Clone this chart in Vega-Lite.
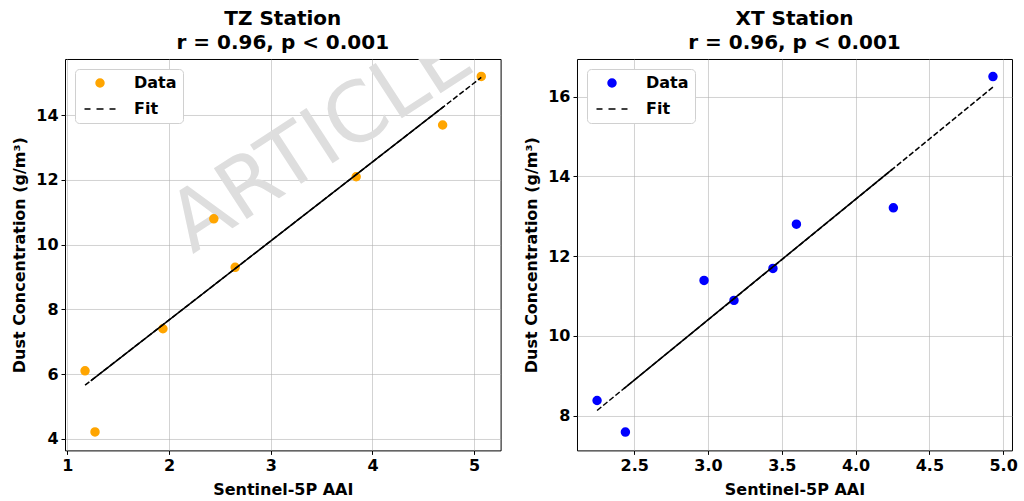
{
  "$schema": "https://vega.github.io/schema/vega-lite/v6.json",
  "background": "white",
  "padding": {"left": 11, "top": 8, "right": 0, "bottom": 0},
  "spacing": 76,
  "bounds": "flush",
  "config": {
    "font": "DejaVu Sans",
    "view": {"stroke": "black", "strokeWidth": 1},
    "axis": {
      "labelFont": "DejaVu Sans", "labelFontSize": 16, "labelFontWeight": "bold", "labelColor": "black",
      "titleFont": "DejaVu Sans", "titleFontSize": 16, "titleFontWeight": "bold", "titleColor": "black",
      "tickColor": "black", "tickSize": 4, "domain": false,
      "gridColor": "#b0b0b0", "gridOpacity": 0.7, "gridWidth": 0.8, "labelPadding": 3, "titlePadding": 8
    },
    "title": {"font": "DejaVu Sans", "fontSize": 20, "fontWeight": "bold", "color": "black", "lineHeight": 24, "anchor": "middle", "offset": 6},
    "legend": {
      "title": null, "orient": "top-left", "offset": 10,
      "fillColor": "white", "strokeColor": "#d0d0d0", "cornerRadius": 4, "padding": 6,
      "symbolSize": 400, "symbolStrokeWidth": 1.6, "symbolOffset": 8,
      "labelFont": "DejaVu Sans", "labelFontSize": 16, "labelFontWeight": "bold", "labelColor": "black",
      "labelOffset": 23, "rowPadding": 7
    }
  },
  "data": {"values": [
    {"station": "TZ", "series": "Data", "aai": 1.174, "dust": 6.10},
    {"station": "TZ", "series": "Data", "aai": 1.272, "dust": 4.21},
    {"station": "TZ", "series": "Data", "aai": 1.94, "dust": 7.40},
    {"station": "TZ", "series": "Data", "aai": 2.44, "dust": 10.80},
    {"station": "TZ", "series": "Data", "aai": 2.65, "dust": 9.30},
    {"station": "TZ", "series": "Data", "aai": 3.84, "dust": 12.10},
    {"station": "TZ", "series": "Data", "aai": 4.69, "dust": 13.70},
    {"station": "TZ", "series": "Data", "aai": 5.07, "dust": 15.20},
    {"station": "TZ", "series": "FitDash", "aai": 1.174, "dust": 5.655},
    {"station": "TZ", "series": "FitDash", "aai": 5.07, "dust": 15.17},
    {"station": "TZ", "series": "FitSolid", "aai": 1.23, "dust": 5.79},
    {"station": "TZ", "series": "FitSolid", "aai": 4.70, "dust": 14.27},
    {"station": "TZ", "series": "Watermark", "aai": 2.23, "dust": 9.70, "label": "ARTICLE IN PRESS"},
    {"station": "XT", "series": "Data", "aai": 2.248, "dust": 8.38},
    {"station": "XT", "series": "Data", "aai": 2.44, "dust": 7.59},
    {"station": "XT", "series": "Data", "aai": 2.973, "dust": 11.39},
    {"station": "XT", "series": "Data", "aai": 3.176, "dust": 10.89},
    {"station": "XT", "series": "Data", "aai": 3.44, "dust": 11.69},
    {"station": "XT", "series": "Data", "aai": 3.599, "dust": 12.80},
    {"station": "XT", "series": "Data", "aai": 4.256, "dust": 13.21},
    {"station": "XT", "series": "Data", "aai": 4.931, "dust": 16.50},
    {"station": "XT", "series": "FitDash", "aai": 2.248, "dust": 8.13},
    {"station": "XT", "series": "FitDash", "aai": 4.936, "dust": 16.25},
    {"station": "XT", "series": "FitSolid", "aai": 2.43, "dust": 8.68},
    {"station": "XT", "series": "FitSolid", "aai": 4.25, "dust": 14.18}
  ]},
  "hconcat": [
    {
      "width": 435.6, "height": 391.4,
      "title": {"text": ["TZ Station", "r = 0.96, p < 0.001"]},
      "transform": [{"filter": "datum.station === 'TZ'"}],
      "encoding": {
        "x": {"field": "aai", "type": "quantitative", "scale": {"domain": [0.977, 5.26], "nice": false, "zero": false},
              "axis": {"title": "Sentinel-5P AAI", "values": [1, 2, 3, 4, 5], "format": "d"}},
        "y": {"field": "dust", "type": "quantitative", "scale": {"domain": [3.64, 15.74], "nice": false, "zero": false},
              "axis": {"title": "Dust Concentration (g/m³)", "values": [4, 6, 8, 10, 12, 14], "format": "d"}}
      },
      "layer": [
        {"transform": [{"filter": "datum.series === 'Watermark'"}],
         "mark": {"type": "text", "align": "left", "baseline": "alphabetic", "angle": -33, "fontSize": 83, "font": "DejaVu Sans", "color": "#dedede", "clip": true},
         "encoding": {"text": {"field": "label"}}},
        {"transform": [{"filter": "datum.series === 'Data'"}],
         "mark": {"type": "point", "filled": true, "opacity": 1, "strokeWidth": 1.6},
         "encoding": {
           "color": {"field": "series", "type": "nominal", "scale": {"domain": ["Data", "Fit"], "range": ["#FFA500", "black"]}},
           "stroke": {"field": "series", "type": "nominal", "scale": {"domain": ["Data", "Fit"], "range": ["#FFA500", "black"]}},
           "shape": {"field": "series", "type": "nominal", "scale": {"domain": ["Data", "Fit"], "range": ["circle", "M-1.55,0H-0.95M-0.35,0H0.35M0.95,0H1.55"]}},
           "size": {"field": "series", "type": "nominal", "scale": {"domain": ["Data", "Fit"], "range": [62, 400]}}
         }},
        {"transform": [{"filter": "datum.series === 'FitDash'"}],
         "mark": {"type": "line", "color": "black", "strokeDash": [5.5, 2.4], "strokeWidth": 1.5}, "encoding": {}},
        {"transform": [{"filter": "datum.series === 'FitSolid'"}],
         "mark": {"type": "line", "color": "black", "strokeWidth": 1.5}, "encoding": {}}
      ]
    },
    {
      "width": 435, "height": 391.4,
      "title": {"text": ["XT Station", "r = 0.96, p < 0.001"]},
      "transform": [{"filter": "datum.station === 'XT'"}],
      "encoding": {
        "x": {"field": "aai", "type": "quantitative", "scale": {"domain": [2.112, 5.06], "nice": false, "zero": false},
              "axis": {"title": "Sentinel-5P AAI", "values": [2.5, 3.0, 3.5, 4.0, 4.5, 5.0], "format": ".1f"}},
        "y": {"field": "dust", "type": "quantitative", "scale": {"domain": [7.13, 16.94], "nice": false, "zero": false},
              "axis": {"title": "Dust Concentration (g/m³)", "values": [8, 10, 12, 14, 16], "format": "d"}}
      },
      "layer": [
        {"transform": [{"filter": "datum.series === 'Data'"}],
         "mark": {"type": "point", "filled": true, "opacity": 1, "strokeWidth": 1.6},
         "encoding": {
           "color": {"field": "series", "type": "nominal", "scale": {"domain": ["Data", "Fit"], "range": ["#0000FF", "black"]}},
           "stroke": {"field": "series", "type": "nominal", "scale": {"domain": ["Data", "Fit"], "range": ["#0000FF", "black"]}},
           "shape": {"field": "series", "type": "nominal", "scale": {"domain": ["Data", "Fit"], "range": ["circle", "M-1.55,0H-0.95M-0.35,0H0.35M0.95,0H1.55"]}},
           "size": {"field": "series", "type": "nominal", "scale": {"domain": ["Data", "Fit"], "range": [62, 400]}}
         }},
        {"transform": [{"filter": "datum.series === 'FitDash'"}],
         "mark": {"type": "line", "color": "black", "strokeDash": [5.5, 2.4], "strokeWidth": 1.5}, "encoding": {}},
        {"transform": [{"filter": "datum.series === 'FitSolid'"}],
         "mark": {"type": "line", "color": "black", "strokeWidth": 1.5}, "encoding": {}}
      ]
    }
  ],
  "resolve": {
    "scale": {"color": "independent", "stroke": "independent", "shape": "independent", "size": "independent"},
    "legend": {"color": "independent", "stroke": "independent", "shape": "independent", "size": "independent"}
  }
}
